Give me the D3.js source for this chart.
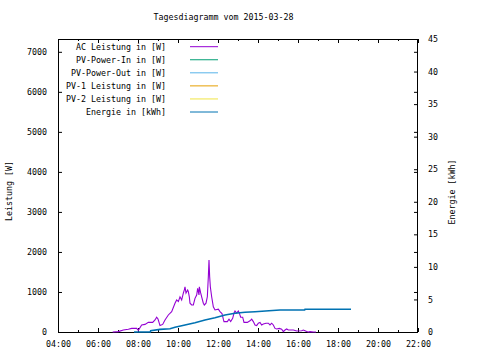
<!DOCTYPE html>
<html>
<head>
<meta charset="utf-8">
<script src="https://cdn.jsdelivr.net/npm/d3@7"></script>
<style>
html,body{margin:0;padding:0;background:#fff;}
svg{display:block;}
text{font-family:"DejaVu Sans Mono","Liberation Mono",monospace;font-size:8.3px;fill:#000;}
</style>
</head>
<body>
<svg id="chart" width="480" height="360"></svg>
<script>
// ---- data ----
const title = "Tagesdiagramm vom 2015-03-28";
const seriesNames = ["AC Leistung in [W]","PV-Power-In in [W]","PV-Power-Out in [W]","PV-1 Leistung in [W]","PV-2 Leistung in [W]","Energie in [kWh]"];
const seriesColors = ["#9400d3","#009e73","#56b4e9","#e69f00","#f0e442","#0072b2"];

const acTimes = ["06:44","07:01","07:16","07:31","07:41","07:56","08:01","08:11","08:21","08:31","08:44","08:51","08:56","09:00","09:06","09:14","09:21","09:31","09:41","09:51","09:56","10:01","10:06","10:11","10:16","10:19","10:21","10:24","10:29","10:31","10:34","10:36","10:41","10:46","10:51","10:56","10:59","11:03","11:04","11:08","11:11","11:16","11:19","11:24","11:28","11:31","11:33","11:35","11:37","11:41","11:46","11:51","12:01","12:06","12:12","12:16","12:18","12:28","12:33","12:38","12:44","12:48","12:51","12:56","13:01","13:04","13:08","13:14","13:18","13:28","13:36","13:41","13:46","13:51","13:56","14:01","14:06","14:11","14:16","14:24","14:31","14:36","14:41","14:46","14:51","14:56","15:04","15:11","15:16","15:21","15:26","15:31","15:46","15:56","16:11","16:16","16:21","16:26","16:31","16:36","16:46","16:54"];
const acValues = [0,10,50,70,90,90,40,175,190,240,240,300,370,325,160,190,300,425,510,720,800,760,880,800,970,1050,1130,975,1050,1010,875,720,675,675,840,925,1090,925,1130,975,880,720,675,720,880,1380,1800,1380,1130,880,630,550,570,510,460,320,260,260,320,260,340,470,525,470,525,470,370,370,240,240,280,320,260,175,160,220,240,175,200,220,220,175,220,175,90,75,90,70,10,50,75,50,50,25,30,50,30,10,0,10,0,0];

const pvInTimes = [], pvInValues = [];
const pvOutTimes = [], pvOutValues = [];
const pv1Times = [], pv1Values = [];
const pv2Times = [], pv2Values = [];

const energyTimes = ["07:48","08:37","08:38","09:06","09:36","09:51","10:21","10:51","11:21","11:51","12:21","12:51","13:21","13:51","14:33","15:06","16:20","16:21","18:39"];
const energyValues = [0,0,0.2,0.4,0.5,0.72,1.08,1.43,1.84,2.2,2.61,2.87,3.03,3.12,3.27,3.38,3.38,3.5,3.5];

const xStart = "04:00", xEnd = "22:00";
const yLeftMax = 7320, yLeftTicks = [0,1000,2000,3000,4000,5000,6000,7000];
const yRightMax = 45, yRightTicks = [0,5,10,15,20,25,30,35,40,45];
const yLeftLabel = "Leistung [W]", yRightLabel = "Energie [kWh]";

// ---- chart ----
const svg = d3.select("#chart");
const parse = d3.timeParse("%H:%M");
const L = 58, R = 418, T = 39, B = 332;

const x = d3.scaleTime().domain([parse(xStart), parse(xEnd)]).range([L, R]);
const yL = d3.scaleLinear().domain([0, yLeftMax]).range([B, T]);
const yR = d3.scaleLinear().domain([0, yRightMax]).range([B, T]);

const mk = (times, vals) => times.map((t,i)=>({t:parse(t), v:vals[i]}));

// title
svg.append("text").attr("x",223.5).attr("y",20).attr("text-anchor","middle").text(title);

// bottom axis (major with labels)
const xMajor = d3.timeHour.every(2);
const gB = svg.append("g").attr("transform",`translate(0,${B})`)
  .call(d3.axisBottom(x).ticks(xMajor).tickFormat(d3.timeFormat("%H:%M")).tickSizeInner(-4).tickSizeOuter(0).tickPadding(9));
const gBm = svg.append("g").attr("transform",`translate(0,${B})`)
  .call(d3.axisBottom(x).ticks(d3.timeHour.every(1)).tickFormat("").tickSizeInner(-2).tickSizeOuter(0));
const gT = svg.append("g").attr("transform",`translate(0,${T})`)
  .call(d3.axisTop(x).ticks(xMajor).tickFormat("").tickSizeInner(-4).tickSizeOuter(0));
const gTm = svg.append("g").attr("transform",`translate(0,${T})`)
  .call(d3.axisTop(x).ticks(d3.timeHour.every(1)).tickFormat("").tickSizeInner(-2).tickSizeOuter(0));

const gL = svg.append("g").attr("transform",`translate(${L},0)`)
  .call(d3.axisLeft(yL).tickValues(yLeftTicks).tickFormat(d3.format("d")).tickSizeInner(-4).tickSizeOuter(0).tickPadding(11));
const gLm = svg.append("g").attr("transform",`translate(${R},0)`)
  .call(d3.axisRight(yL).tickValues(yLeftTicks).tickFormat("").tickSizeInner(-4).tickSizeOuter(0));
const gR = svg.append("g").attr("transform",`translate(${R},0)`)
  .call(d3.axisRight(yR).tickValues(yRightTicks).tickFormat(d3.format("d")).tickSizeInner(-4).tickSizeOuter(0).tickPadding(10));

[gB,gBm,gT,gTm,gL,gLm,gR].forEach(g=>{
  g.select(".domain").remove();
  g.attr("font-family",null).attr("font-size",null);
  g.selectAll("line").attr("stroke","#000");
});
gL.selectAll("text").attr("dy","0.32em");
gR.selectAll("text").attr("dy","0.32em");

// frame
svg.append("rect").attr("x",L+0.5).attr("y",T+0.5).attr("width",R-L-1).attr("height",B-T)
  .attr("fill","none").attr("stroke","#000").attr("stroke-width",1);

// axis titles
svg.append("text").attr("transform","translate(12,191) rotate(-90)").attr("text-anchor","middle").text(yLeftLabel);
svg.append("text").attr("transform","translate(455,192) rotate(-90)").attr("text-anchor","middle").text(yRightLabel);

// lines
const lineL = d3.line().x(d=>x(d.t)).y(d=>yL(d.v));
const lineR = d3.line().x(d=>x(d.t)).y(d=>yR(d.v));
const plotG = svg.append("g");
const seriesData = [
  {d:mk(acTimes,acValues), line:lineL, w:1.1},
  {d:mk(pvInTimes,pvInValues), line:lineL, w:1},
  {d:mk(pvOutTimes,pvOutValues), line:lineL, w:1},
  {d:mk(pv1Times,pv1Values), line:lineL, w:1},
  {d:mk(pv2Times,pv2Values), line:lineL, w:1},
  {d:mk(energyTimes,energyValues), line:lineR, w:1.6}
];
seriesData.forEach((s,i)=>{
  if(!s.d.length) return;
  plotG.append("path").datum(s.d).attr("d",s.line).attr("fill","none")
    .attr("stroke",seriesColors[i]).attr("stroke-width",s.w).attr("stroke-linejoin","miter");
});

// legend
const lg = svg.append("g");
seriesNames.forEach((n,i)=>{
  const yy = 46.7 + i*13.06;
  lg.append("text").attr("x",166).attr("y",yy).attr("dy","0.35em").attr("text-anchor","end").text(n);
  lg.append("line").attr("x1",190).attr("x2",218).attr("y1",yy).attr("y2",yy)
    .attr("stroke",seriesColors[i]).attr("stroke-width",1);
});
</script>
</body>
</html>
